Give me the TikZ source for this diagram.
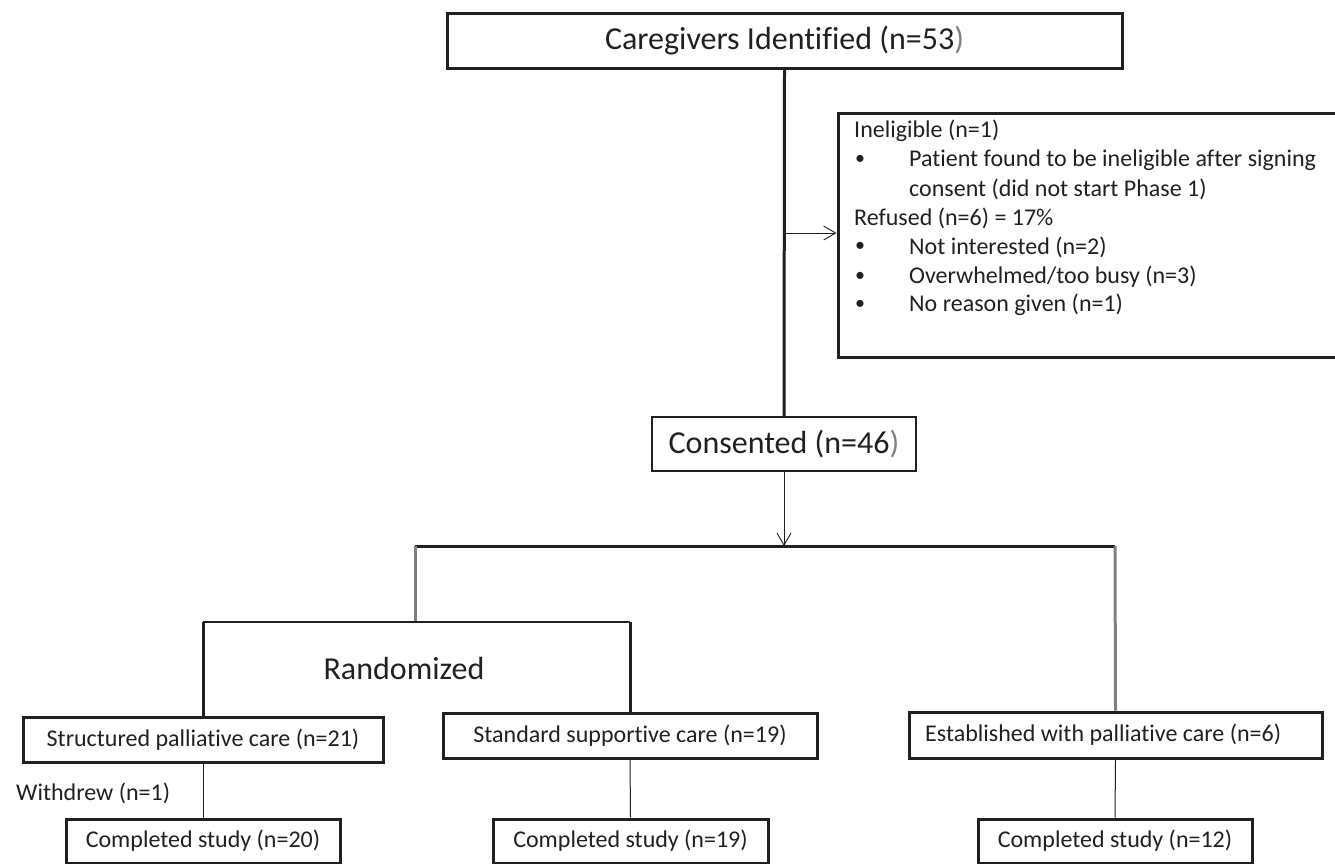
\documentclass[tikz,border=0pt]{standalone}
\usepackage{fontspec}
\setmainfont{Carlito}[Ligatures=NoCommon]
\usetikzlibrary{arrows.meta}
\definecolor{ink}{HTML}{231F20}
\definecolor{midgray}{HTML}{808080}
\begin{document}
\begin{tikzpicture}[x=1pt,y=-1pt,
  txt/.style={font=\fontsize{24}{29}\selectfont, text=ink},
  bigtxt/.style={font=\fontsize{32}{38}\selectfont, text=ink},
  heavybox/.style={draw=ink, line width=3pt, inner sep=0pt, txt},
  lightbox/.style={draw=ink, line width=1.3pt, inner sep=0pt, bigtxt},
  heavyline/.style={draw=ink, line width=3pt},
  grayline/.style={draw=midgray, line width=3pt},
  thinline/.style={draw=ink, line width=1pt},
  barb/.style={thinline, -{Straight Barb[length=12pt, width=14pt, line width=0.9pt]}},
  plain/.style={inner sep=0pt, anchor=west, txt},
  dot/.style={inner sep=0pt, font=\fontsize{20}{24}\selectfont, text=ink}
]
\useasboundingbox (0,0) rectangle (1335,863);
\clip (0,0) rectangle (1335,863);

% top
\node[heavybox, bigtxt, minimum width=675pt, minimum height=55pt] (ident) at (784.5,40.5)
  {Caregivers Identified (n=53\textcolor{midgray}{)}};
\node[lightbox, minimum width=264pt, minimum height=54pt] (cons) at (784,444)
  {Consented (n=46\textcolor{midgray}{)}};
\node[draw=ink, line width=3pt, minimum width=507pt, minimum height=244pt, inner sep=0pt] (excl) at (1091.5,235) {};

% exclusion text
\node[plain] (t1) at (854,131) {Ineligible (n=1)};
\node[dot] (b1) at (860,160) {•};
\node[plain] (t2) at (909,160) {Patient found to be ineligible after signing};
\node[plain] (t3) at (909,189) {consent (did not start Phase 1)};
\node[plain] (t4) at (854,218) {Refused (n=6) = 17\%};
\node[dot] (b2) at (860,247) {•};
\node[plain] (t5) at (909,247) {Not interested (n=2)};
\node[dot] (b3) at (860,277) {•};
\node[plain] (t6) at (909,277) {Overwhelmed/too busy (n=3)};
\node[dot] (b4) at (860,305) {•};
\node[plain] (t7) at (909,305) {No reason given (n=1)};

% arms
\node[heavybox, minimum width=360pt, minimum height=45pt] (spc) at (203,739.5) {Structured palliative care (n=21)};
\node[heavybox, minimum width=374pt, minimum height=45pt] (ssc) at (630,735.5) {Standard supportive care (n=19)};
\node[heavybox, minimum width=413pt, minimum height=46pt] (est) at (1115.5,735) {};
\node[plain] (estlabel) at (925,735) {Established with palliative care (n=6)};

\node[heavybox, minimum width=274pt, minimum height=44pt] (c20) at (203,841) {Completed study (n=20)};
\node[heavybox, minimum width=275pt, minimum height=44pt] (c19) at (630.5,841) {Completed study (n=19)};
\node[heavybox, minimum width=274pt, minimum height=44pt] (c12) at (1115,841) {Completed study (n=12)};

\node[bigtxt, inner sep=0pt] (rand) at (404,668) {Randomized};
\node[plain] (wd) at (16,793) {Withdrew (n=1)};

% connectors
\draw[heavyline] (ident.south) -- (cons.north);
\coordinate (exarr) at (784,233);
\draw[barb] (exarr) -- (exarr -| excl.west);

\coordinate (split) at (784,546);
\coordinate (splitL) at (415,546);
\coordinate (splitR) at (1115,546);
\draw[barb] (cons.south) -- (split);
\draw[heavyline] (splitL) -- (splitR);
\coordinate (randmid) at (415,622);
\coordinate (randL) at (203,622);
\coordinate (randR) at (630,622);
\draw[grayline] (splitL) -- (randmid);
\draw[draw=ink, line width=1.5pt] (randL) -- (randR);
\draw[heavyline] (randL) -- (spc.north);
\draw[heavyline] (randR) -- (ssc.north);
\draw[grayline] (splitR) -- (est.north);

\draw[thinline] (spc.south) -- (c20.north);
\draw[thinline] (ssc.south) -- (c19.north);
\draw[thinline] (est.south) -- (c12.north);
\end{tikzpicture}
\end{document}
